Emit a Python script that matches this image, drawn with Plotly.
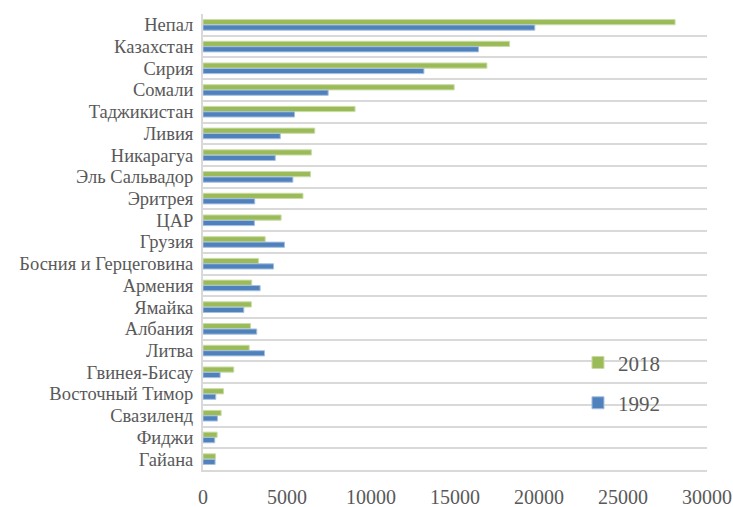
import plotly.graph_objects as go

countries = ["Непал", "Казахстан", "Сирия", "Сомали", "Таджикистан", "Ливия", "Никарагуа",
             "Эль Сальвадор", "Эритрея", "ЦАР", "Грузия", "Босния и Герцеговина", "Армения",
             "Ямайка", "Албания", "Литва", "Гвинея-Бисау", "Восточный Тимор", "Свазиленд",
             "Фиджи", "Гайана"]
values_2018 = [28100, 18250, 16900, 14950, 9050, 6650, 6450, 6400, 5950, 4650, 3700, 3300,
               2900, 2880, 2830, 2750, 1830, 1220, 1080, 840, 740]
values_1992 = [19750, 16400, 13150, 7450, 5450, 4600, 4300, 5350, 3080, 3060, 4850, 4200,
               3400, 2430, 3200, 3660, 1020, 760, 860, 700, 720]
x_ticks = [0, 5000, 10000, 15000, 20000, 25000, 30000]
x_ticktext = ["0", "5000", "10000", "15000", "20000", "25000", "30000"]

FONT = "Times New Roman, Liberation Serif, serif"
TXT = "#595959"
GRID = "#D9D9D9"

fig = go.Figure()
fig.add_trace(go.Bar(y=countries, x=values_2018, name="2018", orientation="h",
                     marker=dict(color="#9BBB59", line=dict(color="#C9DCA5", width=1)),
                     legendgroup="a"))
fig.add_trace(go.Bar(y=countries, x=values_1992, name="1992", orientation="h",
                     marker=dict(color="#4F81BD", line=dict(color="#A7BFDE", width=1)),
                     legendgroup="b"))

fig.update_layout(
    width=733, height=507,
    margin=dict(l=203, r=26, t=14, b=37),
    paper_bgcolor="white", plot_bgcolor="white",
    barmode="group", bargap=0.5, bargroupgap=0.04,
    font=dict(family=FONT, color=TXT, size=18),
    showlegend=True,
    legend=dict(x=0.744, y=0.28, xanchor="left", yanchor="top",
                font=dict(family=FONT, size=21, color=TXT),
                traceorder="grouped", tracegroupgap=10,
                bgcolor="rgba(0,0,0,0)", itemwidth=30),
    xaxis=dict(range=[0, 30000], tickvals=x_ticks, ticktext=x_ticktext,
               showgrid=False, zeroline=False,
               showline=True, linecolor=GRID, linewidth=2,
               ticks="", ticklabelstandoff=8, automargin=False,
               tickfont=dict(family=FONT, size=20, color=TXT)),
    yaxis=dict(autorange="reversed", type="category", tickson="boundaries",
               tickmode="linear", tick0=0, dtick=1,
               showgrid=True, gridcolor=GRID, gridwidth=2,
               showline=True, linecolor=GRID, linewidth=2,
               ticks="", ticklabelstandoff=4, automargin=False,
               tickfont=dict(family=FONT, size=18.5, color=TXT)),
)

fig.write_html("out.html", config={"displayModeBar": False},
               post_script="document.body.style.margin='0';")
